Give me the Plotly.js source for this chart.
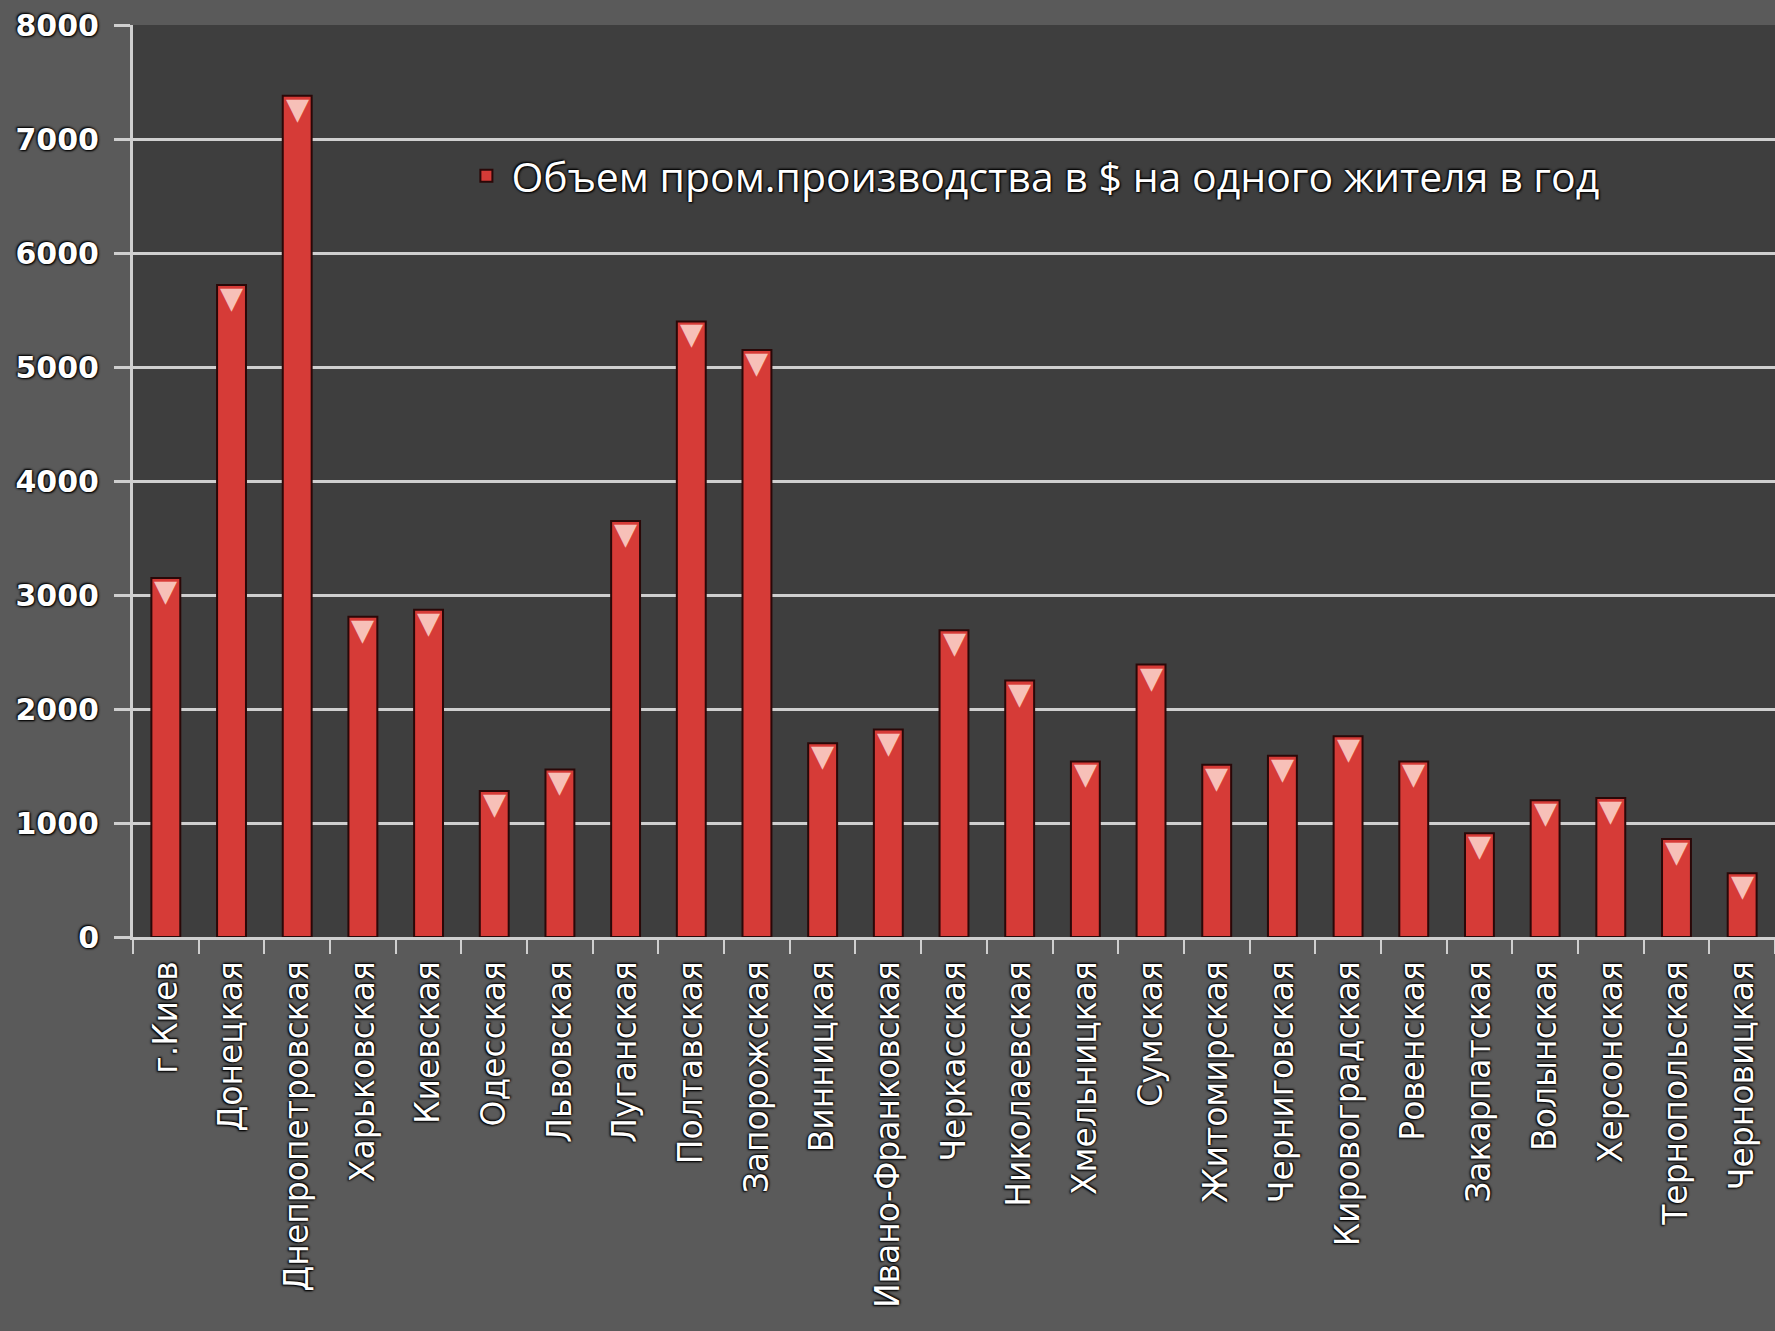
<!DOCTYPE html>
<html>
<head>
<meta charset="utf-8">
<script src="https://cdn.plot.ly/plotly-3.0.1.min.js"></script>
<style>html,body{margin:0;padding:0;background:#5a5a5a;}</style>
</head>
<body>
<div id="chart" style="width:1775px;height:1331px;"></div>
<script>
var regions = ["г.Киев","Донецкая","Днепропетровская","Харьковская","Киевская","Одесская","Львовская","Луганская","Полтавская","Запорожская","Винницкая","Ивано-Франковская","Черкасская","Николаевская","Хмельницкая","Сумская","Житомирская","Черниговская","Кировоградская","Ровенская","Закарпатская","Волынская","Херсонская","Тернопольская","Черновицкая"];
var values = [3150,5720,7380,2810,2870,1280,1470,3650,5400,5150,1700,1820,2690,2250,1540,2390,1510,1590,1760,1540,910,1200,1220,860,560];
var seriesName = "Объем пром.производства в $ на одного жителя в год";
var yTicks = [0,1000,2000,3000,4000,5000,6000,7000,8000];

var shadow = "0px 0px 3px #000, 1px 1px 2px #000, -1px -1px 2px #000";

var trace = {
  type: "bar",
  x: regions,
  y: values,
  name: seriesName,
  showlegend: true,
  marker: {color: "#d63b37", line: {color: "#2a0808", width: 2}},
  width: 0.44
};

var caps = regions.map(function (r, i) {
  return {
    x: r, y: values[i], xref: "x", yref: "y",
    text: "▼", showarrow: false, yanchor: "top", yshift: 7,
    font: {family: "DejaVu Sans, sans-serif", size: 30, color: "#f7c0b8"}
  };
});

var layout = {
  width: 1775, height: 1331,
  paper_bgcolor: "#5a5a5a",
  plot_bgcolor: "#3e3e3e",
  margin: {l: 133, r: 0, t: 25, b: 394},
  showlegend: true,
  annotations: caps,
  legend: {
    x: 0.2, y: 0.871, xanchor: "left", yanchor: "top",
    bgcolor: "rgba(0,0,0,0)",
    font: {family: "Open Sans, sans-serif", size: 41, color: "#ffffff", shadow: shadow},
    itemwidth: 40
  },
  xaxis: {
    type: "category",
    tickangle: -90,
    tickfont: {family: "DejaVu Sans, sans-serif", size: 33, color: "#ffffff", shadow: shadow},
    showline: true, linecolor: "#cfcfcf", linewidth: 3,
    ticks: "outside", tickson: "boundaries", ticklen: 14, tickwidth: 2, tickcolor: "#cfcfcf",
    showgrid: false,
    ticklabelstandoff: 8
  },
  yaxis: {
    range: [0, 8000],
    tickvals: yTicks,
    ticktext: yTicks.map(String),
    tickfont: {family: "DejaVu Sans, sans-serif", size: 30, color: "#ffffff", weight: 600, shadow: shadow},
    showline: true, linecolor: "#cfcfcf", linewidth: 3,
    ticks: "outside", ticklen: 16, tickwidth: 3, tickcolor: "#cfcfcf",
    showgrid: true, gridcolor: "#cfcfcf", gridwidth: 3,
    zeroline: false,
    ticklabelstandoff: 9
  }
};

Plotly.newPlot("chart", [trace], layout, {displayModeBar: false, staticPlot: true});
</script>
</body>
</html>
